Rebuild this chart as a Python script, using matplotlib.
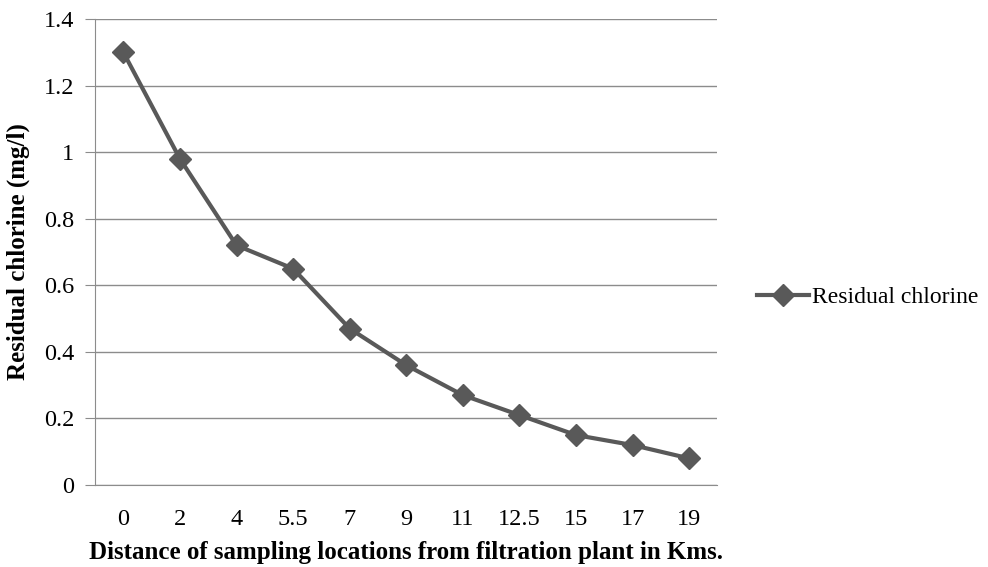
import matplotlib.pyplot as plt
from matplotlib.lines import Line2D

plt.rcParams["font.family"] = ["Liberation Serif", "DejaVu Serif"]

# sampling locations (km) and residual chlorine (mg/l)
distances = ["0", "2", "4", "5.5", "7", "9", "11", "12.5", "15", "17", "19"]
chlorine = [1.30, 0.98, 0.72, 0.65, 0.47, 0.36, 0.27, 0.21, 0.15, 0.12, 0.08]
y_ticks = [0, 0.2, 0.4, 0.6, 0.8, 1, 1.2, 1.4]
y_tick_labels = ["0", "0.2", "0.4", "0.6", "0.8", "1", "1.2", "1.4"]

line_color = "#595959"
grid_color = "#8c8c8c"
fs = 17.5

fig = plt.figure(figsize=(9.88, 5.67), dpi=100)
ax = fig.add_axes([0.0962, 0.1446, 0.6300, 0.8219])

x = list(range(len(distances)))
ax.plot(x, chlorine, color=line_color, linewidth=3, marker="D",
        markersize=11, markerfacecolor=line_color, markeredgecolor=line_color,
        zorder=3)

ax.set_xlim(-0.5, len(distances) - 0.5)
ax.set_ylim(0, 1.4)
ax.set_xticks(x)
ax.set_xticklabels(distances)
ax.set_yticks(y_ticks)
ax.set_yticklabels(y_tick_labels)

ax.yaxis.grid(True, color=grid_color, linewidth=1)
ax.set_axisbelow(True)
for side in ["top", "right"]:
    ax.spines[side].set_visible(False)
ax.spines["left"].set_color(grid_color)
ax.spines["bottom"].set_color(grid_color)

ax.tick_params(axis="x", length=0, pad=17, labelsize=fs)
ax.tick_params(axis="y", length=7, color=grid_color, pad=8, labelsize=fs)

ax.set_xlabel("Distance of sampling locations from filtration plant in Kms.",
              fontsize=18, fontweight="bold", labelpad=8)
ax.set_ylabel("Residual chlorine (mg/l)", fontsize=18, fontweight="bold",
              labelpad=10)

handle = Line2D([], [], color=line_color, linewidth=3, marker="D",
                markersize=11, markerfacecolor=line_color)
fig.legend([handle], ["Residual chlorine"], loc="center left",
           bbox_to_anchor=(0.766, 0.476), frameon=False, fontsize=17,
           handlelength=2.2, handletextpad=0.15, borderpad=0,
           borderaxespad=0)

fig.savefig("out.png", dpi=100)
